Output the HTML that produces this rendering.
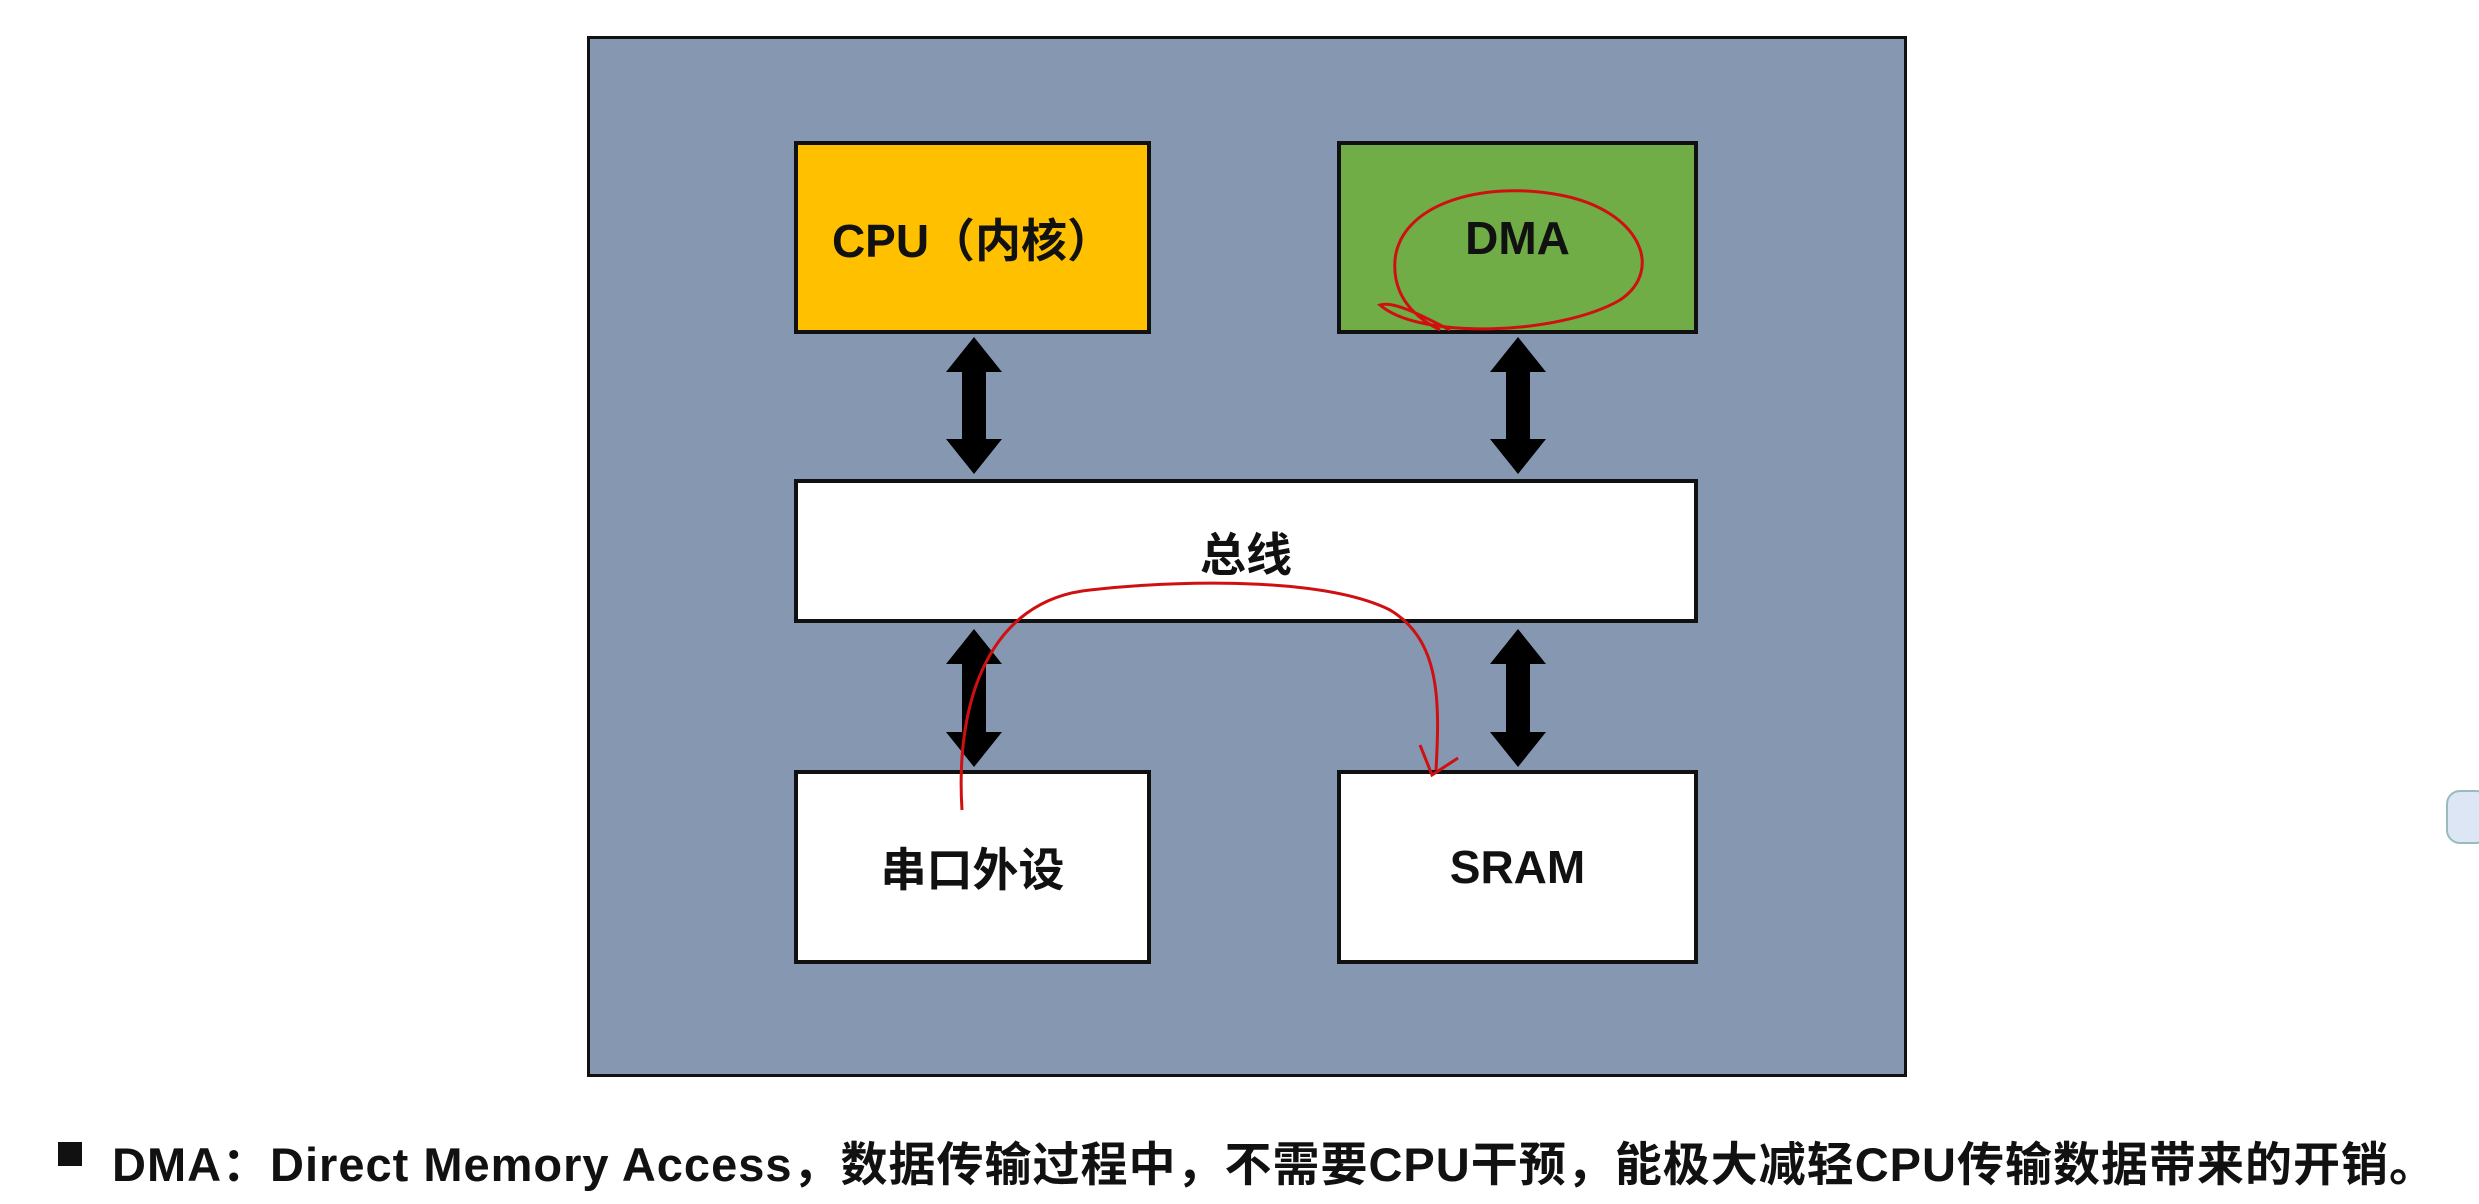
<!DOCTYPE html>
<html><head><meta charset="utf-8"><style>
body{margin:0;width:2479px;height:1204px;background:#fff;position:relative;overflow:hidden;font-family:"Liberation Sans","Noto Sans CJK SC",sans-serif;font-weight:bold}
.b{position:absolute;box-sizing:border-box;border:4px solid #111;display:flex;align-items:center;justify-content:center;font-size:46px;color:#111}
</style></head><body>
<div class="b" style="left:587px;top:36px;width:1320px;height:1041px;background:#8597b1;border-width:3px"></div>
<div class="b" style="left:794px;top:141px;width:357px;height:193px;background:#ffc000">CPU（内核）</div>
<div class="b" style="left:1337px;top:141px;width:361px;height:193px;background:#70ad47">DMA</div>
<div class="b" style="left:794px;top:479px;width:904px;height:144px;background:#fff;align-items:flex-start;padding-top:36px">总线</div>
<div class="b" style="left:794px;top:770px;width:357px;height:194px;background:#fff">串口外设</div>
<div class="b" style="left:1337px;top:770px;width:361px;height:194px;background:#fff">SRAM</div>
<svg width="2479" height="1204" style="position:absolute;left:0;top:0">
<g fill="#000">
<polygon points="974,337 1002,372 986,372 986,439 1002,439 974,474 946,439 962,439 962,372 946,372"/>
<polygon points="1518,337 1546,372 1530,372 1530,439 1546,439 1518,474 1490,439 1506,439 1506,372 1490,372"/>
<polygon points="974,629 1002,664 986,664 986,732 1002,732 974,767 946,732 962,732 962,664 946,664"/>
<polygon points="1518,629 1546,664 1530,664 1530,732 1546,732 1518,767 1490,732 1506,732 1506,664 1490,664"/>
</g>
<g fill="none" stroke="#d01010" stroke-width="3">
<path d="M962,810 C955,700 990,600 1090,590 C1200,578 1330,580 1390,610 C1440,640 1440,700 1436,770"/>
<path d="M1420,745 L1432,775 L1458,758"/>
<path d="M1450,330 C1430,320 1395,300 1380,305 C1420,340 1560,335 1620,300 C1665,270 1640,210 1560,195 C1480,180 1400,205 1395,260 C1392,300 1420,320 1440,330"/>
</g>
</svg>
<div style="position:absolute;left:58px;top:1142px;width:24px;height:24px;background:#111"></div>
<div style="position:absolute;left:112px;top:1126px;font-size:47px;color:#111;white-space:nowrap;letter-spacing:1px">DMA：Direct Memory Access，数据传输过程中，不需要CPU干预，能极大减轻CPU传输数据带来的开销。</div>
<div style="position:absolute;left:2446px;top:790px;width:40px;height:50px;border-radius:14px;background:#dce6f5;border:2px solid #9bb"></div>
</body></html>
